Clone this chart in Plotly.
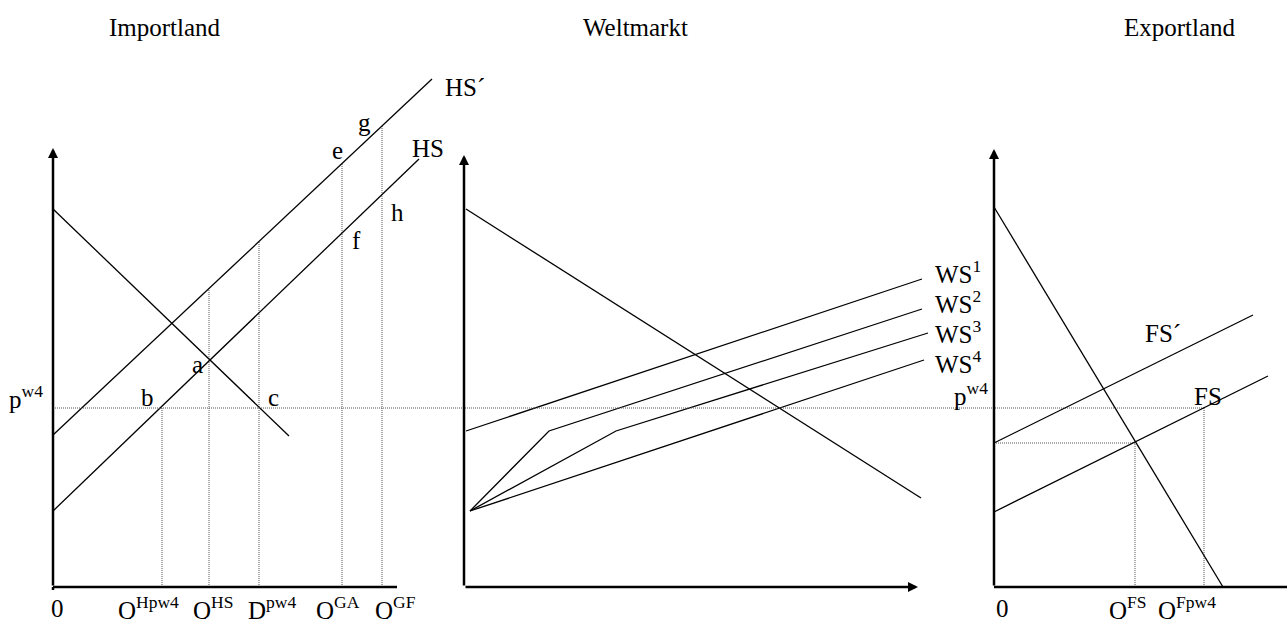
import numpy as np
import plotly.graph_objects as go

# ---------------- data (local coordinates of each panel: quantity -> right, price -> up) -------------
P_W4 = 179  # world price p^w4

# Importland
imp_demand_q = [0, 236]
imp_demand_p = [378, 151]
imp_hs_q = [0, 366]
imp_hs_p = [76, 428]
imp_hs2_q = [0, 379]
imp_hs2_p = [152, 508]
imp_axis_top = 439
imp_axis_end = 344
imp_guide_q = [109, 156, 206, 289, 329]
imp_guide_labels = ["Q<sup>Hpw4</sup>", "Q<sup>HS</sup>", "D<sup>pw4</sup>", "Q<sup>GA</sup>", "Q<sup>GF</sup>"]
imp_point_labels = ["a", "b", "c", "e", "g", "f", "h"]
imp_point_q = [144, 94, 220, 284, 311, 303, 344]
imp_point_p = [223, 190, 190, 437, 465, 347, 375]

# Weltmarkt
welt_demand_q = [2, 457]
welt_demand_p = [378, 89]
ws_q = [[2, 458], [6, 85, 458], [6, 152, 464], [6, 460]]
ws_p = [[156, 308], [76, 156, 278], [76, 156, 254], [76, 227]]
ws_labels = ["WS<sup>1</sup>", "WS<sup>2</sup>", "WS<sup>3</sup>", "WS<sup>4</sup>"]
ws_label_p = [315, 285, 255, 225]
welt_axis_top = 432
welt_axis_end = 454

# Exportland
exp_demand_q = [0, 229]
exp_demand_p = [380, 0]
exp_fs_q = [0, 274]
exp_fs_p = [75, 211]
exp_fs2_q = [0, 259]
exp_fs2_p = [144, 272]
exp_q_fs = 141
exp_p_fs = 144
exp_q_fpw4 = 210
exp_axis_top = 438
exp_axis_end = 293

titles = ["Importland", "Weltmarkt", "Exportland"]

# ---------------- layout constants ----------------
W, H = 1287, 619
ORIG_X = {"x": 53, "x2": 464, "x3": 994}
ORIG_Y = 587
FONT = "Liberation Serif"
FS = 25
LW = 1.3
AXW = 2.5
DOT = "1px,1px"
DOTC = "#555"
BOTTOM_LABEL_P = -21

fig = go.Figure()


def line(q, p, ax="x", dash=None, width=LW, color="black"):
    fig.add_trace(go.Scatter(
        x=q, y=p, mode="lines", xaxis=ax, yaxis="y",
        line=dict(color=color, width=width, dash=dash),
        hoverinfo="skip", showlegend=False))


def label(text, q, p, ax="x", xanchor="center", yanchor="middle", size=FS):
    fig.add_annotation(x=q, y=p, xref=ax, yref="y", text=text, showarrow=False,
                       xanchor=xanchor, yanchor=yanchor,
                       font=dict(family=FONT, size=size, color="black"))


def axis_arrow(ax, q, p):
    fig.add_annotation(x=q, y=p, ax=0, ay=0, xref=ax, yref="y", axref=ax, ayref="y",
                       text="", showarrow=True, arrowhead=2, arrowwidth=AXW,
                       arrowsize=0.8, arrowcolor="black", standoff=0)


# world price dotted line from Importland origin to Exportland Q^Fpw4
line([ORIG_X["x"] - ORIG_X["x3"], exp_q_fpw4], [P_W4, P_W4], "x3", DOT, 1, DOTC)

# ---- Importland ----
hs2_at = np.interp(imp_guide_q[1:], imp_hs2_q, imp_hs2_p)
guide_tops = [P_W4] + list(hs2_at)
for q, top in zip(imp_guide_q, guide_tops):
    line([q, q], [0, top], "x", DOT, 1, DOTC)
line(imp_demand_q, imp_demand_p)
line(imp_hs_q, imp_hs_p)
line(imp_hs2_q, imp_hs2_p)
axis_arrow("x", 0, imp_axis_top)
line([0, imp_axis_end], [0, 0], "x", None, AXW)
line([0, 0], [-3, 0], "x", None, AXW)
label("HS´", imp_hs2_q[-1] + 11, 500, "x", xanchor="left")
label("HS", imp_hs_q[-1] - 9, 439, "x", xanchor="left")
for t, q, p in zip(imp_point_labels, imp_point_q, imp_point_p):
    label(t, q, p, "x")
label("0", 4, BOTTOM_LABEL_P, "x")
for t, q in zip(imp_guide_labels, [95, 160, 219, 285, 342]):
    label(t, q, BOTTOM_LABEL_P, "x")
label("p<sup>w4</sup>", -8, 190, "x", xanchor="right")

# ---- Weltmarkt ----
line(welt_demand_q, welt_demand_p, "x2")
for q, p in zip(ws_q, ws_p):
    line(q, p, "x2")
axis_arrow("x2", 0, welt_axis_top)
axis_arrow("x2", welt_axis_end, 0)
for t, p in zip(ws_labels, ws_label_p):
    label(t, 469, p, "x2", xanchor="left")

# ---- Exportland ----
line([0, exp_q_fs], [exp_p_fs, exp_p_fs], "x3", DOT, 1, DOTC)
line([exp_q_fs, exp_q_fs], [0, exp_p_fs], "x3", DOT, 1, DOTC)
line([exp_q_fpw4, exp_q_fpw4], [0, P_W4], "x3", DOT, 1, DOTC)
line(exp_demand_q, exp_demand_p, "x3")
line(exp_fs_q, exp_fs_p, "x3")
line(exp_fs2_q, exp_fs2_p, "x3")
axis_arrow("x3", 0, exp_axis_top)
line([0, exp_axis_end], [0, 0], "x3", None, AXW)
label("p<sup>w4</sup>", -4, 193, "x3", xanchor="right")
label("FS´", 149, 254, "x3", xanchor="left")
label("FS", 198, 191, "x3", xanchor="left")
label("0", 8, BOTTOM_LABEL_P, "x3")
label("Q<sup>FS</sup>", 134, BOTTOM_LABEL_P, "x3")
label("Q<sup>Fpw4</sup>", 193, BOTTOM_LABEL_P, "x3")

# titles
for t, ax, q in zip(titles, ["x", "x2", "x3"], [112, 171, 186]):
    label(t, q, 560, ax)

axcommon = dict(visible=False, showgrid=False, zeroline=False, fixedrange=True, domain=[0, 1])
fig.update_layout(
    width=W, height=H, margin=dict(l=0, r=0, t=0, b=0, pad=0),
    paper_bgcolor="white", plot_bgcolor="white", showlegend=False,
    xaxis=dict(range=[-ORIG_X["x"], W - ORIG_X["x"]], **axcommon),
    xaxis2=dict(range=[-ORIG_X["x2"], W - ORIG_X["x2"]], overlaying="x", **axcommon),
    xaxis3=dict(range=[-ORIG_X["x3"], W - ORIG_X["x3"]], overlaying="x", **axcommon),
    yaxis=dict(range=[ORIG_Y - H, ORIG_Y], visible=False, showgrid=False, zeroline=False, fixedrange=True),
)

fig.write_html("out.html", config={"displayModeBar": False, "staticPlot": True},
               post_script="document.body.style.margin='0px';document.body.style.overflow='hidden';")
